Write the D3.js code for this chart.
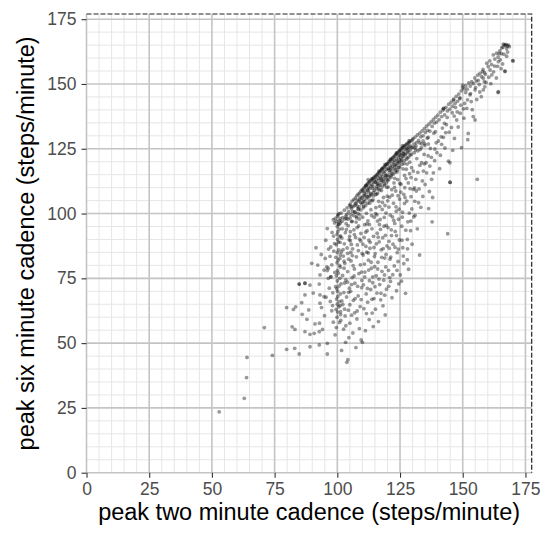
<!DOCTYPE html>
<html><head><meta charset="utf-8">
<script src="https://cdn.jsdelivr.net/npm/d3@7"></script>
<style>body{margin:0;background:#fff}svg{display:block}</style>
</head><body><div id="chart"></div>
<script>
const xLabel = "peak two minute cadence (steps/minute)";
const yLabel = "peak six minute cadence (steps/minute)";
const majorTicks = [0, 25, 50, 75, 100, 125, 150, 175];

const sparseLow = [[52.9,23.5],[62.9,28.7],[63.8,36.7],[64.0,44.5],[74.1,45.3],[70.9,56.0],[79.8,47.6],[83.0,48.0],[84.8,45.8],[89.1,48.6],[92.8,49.3],[96.0,45.8],[82.0,56.3],[83.1,55.3],[79.8,63.7],[82.5,63.0],[83.4,64.0],[85.8,65.6],[86.0,61.1],[87.9,59.2],[87.1,54.4],[89.1,53.4],[90.8,53.8],[92.8,54.4],[94.1,55.3],[91.1,57.4],[92.9,57.7],[94.9,60.6],[84.8,72.8],[84.8,72.8],[87.1,73.1],[87.1,73.1],[89.1,72.4],[87.1,68.6],[92.8,72.8],[93.1,65.4],[93.7,63.7],[93.1,68.6],[95.5,67.7],[89.8,80.8],[93.1,76.3],[94.7,78.2],[96.0,78.0],[96.4,78.9],[96.4,75.0],[97.4,75.6],[97.4,75.6],[94.7,67.9],[96.0,49.9],[97.8,62.5],[98.4,58.1],[96.8,71.2],[98.2,69.4],[97.1,83.5],[95.4,89.7],[96.0,94.2],[97.4,87.1],[98.5,91.3],[93.6,84.2],[91.5,86.8],[98.9,96.4],[97.8,80.2],[95.2,82.7],[99.0,77.3],[98.6,85.5],[92.2,80.1],[90.4,69.3],[88.6,62.8],[97.2,66.1],[99.1,53.2]];

const columnAt100 = [[99.6,56],[100.9,58],[99.9,60],[101.3,61],[100.1,62],[99.5,63],[100.6,64],[101.1,64.5],[100.0,65],[100.8,66],[99.7,67],[100.2,68],[101.2,69],[100.1,70],[99.8,71],[100.7,72],[100.0,74],[101.0,75],[99.6,76],[100.4,77],[100.1,78],[100.9,80],[99.9,81],[100.3,82],[101.2,84],[100.0,85],[100.6,86],[99.6,88],[100.4,89],[100.1,90],[101.0,91],[99.9,92],[100.2,93],[100.8,94],[100.0,95],[100.5,96],[99.7,97],[101.1,98],[100.1,99],[100.6,100]];

const fanBody = [[103.8,42.6],[104.2,43.6],[103.3,50.3],[101.7,47.2],[102.5,55.4],[104.6,52.1],[101.4,58.8],[103.1,60.5],[104.4,62.7],[102.2,64.9],[101.8,66.3],[103.7,67.8],[102.6,69.5],[104.8,71.2],[101.5,72.9],[103.4,74.4],[102.1,76.1],[104.1,77.6],[101.2,79.3],[103.0,80.8],[104.5,82.4],[102.4,83.6],[101.6,85.2],[103.9,86.7],[102.8,88.3],[104.7,89.9],[101.3,91.4],[103.2,92.6],[102.0,94.1],[104.3,95.3],[101.9,97.0],[103.6,98.2],[102.7,81.6],[104.0,73.5],[101.1,88.9],[102.9,63.1],
[106.2,53.9],[105.0,57.7],[107.4,48.3],[108.8,55.6],[109.5,51.2],[105.7,60.8],[107.9,62.4],[109.1,64.1],[106.4,66.5],[108.3,68.2],[105.3,70.0],[109.7,71.4],[107.0,73.1],[105.9,75.3],[108.6,76.8],[106.8,78.6],[109.2,80.2],[105.5,81.7],[107.6,83.3],[109.9,84.6],[106.1,86.4],[108.0,87.9],[105.2,89.5],[107.3,90.8],[109.4,92.3],[106.6,93.7],[108.5,95.2],[105.8,96.9],[107.7,98.3],[109.0,99.5],[106.9,100.6],[108.2,101.8],[105.4,85.0],[109.6,77.4],[107.1,67.2],[106.3,79.9],[108.9,90.1],
[110.0,50.3],[114.3,56.4],[111.2,54.8],[112.7,59.1],[113.9,61.6],[110.6,63.3],[112.1,65.8],[114.6,67.2],[111.5,69.0],[113.3,70.7],[110.4,72.5],[112.8,74.1],[114.1,75.6],[111.0,77.4],[113.6,78.9],[110.8,80.5],[112.4,82.0],[114.8,83.4],[111.7,85.1],[113.0,86.6],[110.2,88.2],[112.6,89.7],[114.4,91.2],[111.3,92.8],[113.8,94.1],[110.9,95.7],[112.2,97.2],[114.7,98.6],[111.6,100.1],[113.4,101.5],[110.5,102.8],[112.9,104.0],[114.2,105.3],[111.8,96.0],[113.1,88.9],[110.3,84.0],[114.9,79.5],
[115.2,63.1],[118.2,64.4],[116.4,58.3],[119.1,60.9],[117.3,66.7],[115.8,69.3],[119.6,70.8],[116.9,72.6],[118.5,74.3],[115.5,76.0],[117.8,77.7],[119.3,79.4],[116.2,81.2],[118.9,82.8],[115.1,84.5],[117.5,86.0],[119.8,87.5],[116.7,89.1],[118.1,90.7],[115.9,92.4],[117.2,93.9],[119.5,95.4],[116.0,97.1],[118.7,98.5],[115.3,100.0],[117.9,101.6],[119.0,103.1],[116.5,104.7],[118.4,106.2],[115.7,107.5],[117.6,108.9],[119.7,110.1],[116.8,95.8],[118.3,86.5],[115.4,102.3],[119.2,91.6],
[120.9,75.3],[125.1,76.3],[121.8,67.5],[123.6,70.2],[124.5,72.9],[120.4,78.1],[122.7,79.8],[124.2,81.5],[121.3,83.2],[123.9,84.9],[120.7,86.6],[122.2,88.2],[124.7,89.8],[121.6,91.5],[123.1,93.1],[120.2,94.6],[122.9,96.2],[124.4,97.8],[121.1,99.4],[123.5,100.9],[120.6,102.5],[122.4,104.0],[124.8,105.6],[121.9,107.1],[123.3,108.7],[120.3,110.2],[122.6,111.8],[124.1,113.1],[121.4,114.6],[123.8,116.0],[122.0,98.7],[120.8,106.3],[124.6,101.7],[123.0,87.0],
[127.2,69.2],[125.7,95.1],[126.3,83.6],[127.9,90.0],[127.7,104.8],[126.8,103.9],[129.6,117.7],[128.4,78.5],[126.1,86.8],[129.2,93.4],[125.9,98.6],[128.7,100.2],[126.5,107.4],[129.0,109.6],[125.4,111.3],[127.4,113.5],[128.8,115.4],[126.2,117.2],[127.8,119.1],[125.6,120.6],[129.4,106.5],[126.9,110.0],[128.1,96.8],[129.8,88.2]];

const extraFan = [[98.9,88.4],[99.4,83.1],[101.8,90.6],[102.3,86.1],[103.6,93.8],[104.9,91.2],[101.0,82.7],[102.7,78.9],[104.1,84.6],[105.6,88.1],[106.8,91.9],[107.9,94.6],[106.0,83.8],[108.4,85.7],[109.3,89.4],[105.2,93.0],[107.5,96.7],[108.8,97.9],[106.7,75.9],[109.8,74.2],[105.0,64.8],[107.8,59.3],[110.7,90.8],[111.9,93.4],[112.8,95.8],[113.7,99.2],[110.1,98.6],[111.4,87.3],[112.3,84.8],[113.5,81.2],[114.6,86.9],[110.9,75.6],[112.0,71.1],[113.8,66.9],[111.6,61.4],[115.6,88.3],[116.3,90.9],[117.1,97.7],[118.6,95.1],[119.4,100.2],[115.8,99.5],[116.9,102.8],[118.0,104.3],[119.9,106.7],[117.7,83.1],[116.1,78.6],[118.8,76.3],[119.4,84.2],[115.0,71.8],[117.4,69.2],[120.6,89.3],[121.5,93.7],[122.5,97.4],[123.4,102.6],[124.2,106.9],[120.1,104.9],[121.7,109.2],[122.8,110.1],[124.9,111.6],[123.6,91.5],[121.0,82.4],[122.1,76.4],[124.3,86.3],[120.5,71.9],[126.0,100.5],[127.0,106.2],[128.3,111.8],[129.4,113.9],[125.3,108.3],[126.8,114.7],[127.5,117.1],[128.9,119.8],[125.8,89.7],[127.3,93.6],[129.7,101.8],[126.5,80.7],[128.0,86.4],[96.5,86.3],[97.9,92.7],[95.8,79.4],[99.3,71.8],[98.1,64.5],[103.4,56.7],[106.9,61.7],[104.5,69.6],[101.3,62.1],[102.9,73.2],[105.7,72.6],[108.1,71.9],[109.5,66.8],[112.5,78.2],[114.1,73.3],[116.6,74.7],[118.9,68.5],[121.2,73.8],[123.8,78.1],[125.6,73.9],[127.9,82.2],[129.3,97.1],[130.9,104.7],[132.6,109.5],[134.1,106.6],[131.3,113.2],[132.9,118.6],[134.7,119.2],[136.9,118.3],[137.5,121.7],[138.9,124.9],[136.3,126.8],[139.7,123.5],[141.4,129.6],[142.9,125.3],[144.6,131.4],[143.5,134.3],[146.6,137.6],[147.8,139.2],[149.2,141.8],[150.3,140.4],[151.9,143.9],[153.1,146.3],[155.1,148.6],[156.8,146.9],[158.6,150.9],[160.4,152.6],[162.3,154.7],[163.9,156.8],[165.0,159.3],[166.4,161.5],[167.9,162.3]];

const upperFan = [[130.3,109.3],[130.8,109.9],[131.5,108.7],[131.0,99.3],[130.5,98.7],[135.0,111.2],[133.6,119.6],[134.3,116.4],[130.3,116.4],[132.1,115.9],[133.0,124.7],[131.7,121.2],[134.6,122.8],[132.4,104.2],[133.9,112.6],[130.9,125.4],[134.8,127.0],[132.8,84.0],[131.9,94.1],[133.3,102.4],
[135.4,119.6],[135.6,115.7],[138.3,115.7],[137.6,113.2],[136.2,122.3],[137.1,125.1],[138.8,120.4],[139.4,127.3],[136.7,108.5],[138.0,106.2],[135.9,129.1],[139.1,131.6],[137.8,96.8],[136.4,101.9],
[140.3,128.0],[141.6,126.7],[142.3,129.4],[144.3,120.2],[144.9,119.6],[144.9,112.1],[144.0,92.2],[141.1,122.5],[143.2,131.2],[142.7,134.8],[140.8,117.3],[143.8,137.1],[141.9,133.0],
[145.0,112.0],[147.6,136.1],[146.3,143.8],[149.0,138.7],[148.2,133.4],[146.7,129.0],[149.5,125.4],[145.8,138.9],[147.1,141.0],[148.8,144.3],[146.0,124.4],[145.5,133.2],
[152.2,130.9],[152.0,128.5],[151.6,140.6],[154.2,137.4],[154.9,136.1],[152.9,145.8],[154.9,147.7],[153.4,143.2],[150.5,136.8],[151.2,146.7],[153.8,140.1],[150.8,142.5],
[155.8,113.2],[158.2,147.7],[158.2,152.2],[156.6,149.8],[157.4,145.1],[159.3,150.6],[155.6,144.0],[157.9,154.8],[159.0,153.7],[156.2,151.4],[158.8,148.9],
[164.2,147.0],[164.1,146.7],[160.9,155.4],[161.6,153.5],[164.2,158.6],[165.9,157.7],[166.9,154.8],[166.8,155.0],[169.9,159.0],[170.1,158.9],[164.5,161.8],[162.7,156.9],[163.4,152.3],[167.5,160.7],[161.2,150.1],[165.3,155.9]];

const diagonalBand = [[98.4,97.6],[99.2,98.1],[100.3,99.5],[100.9,97.3],[101.5,100.2],[102.1,98.4],[102.8,101.3],[103.4,99.0],[103.9,102.2],[104.5,100.7],[104.9,103.1],[101.2,96.4],[103.0,97.9],[100.6,95.8],
[105.2,103.6],[105.6,101.9],[105.9,104.8],[106.3,102.7],[106.6,105.4],[106.9,103.2],[107.2,106.0],[107.5,104.1],[107.8,106.9],[108.0,105.2],[108.3,107.5],[108.6,104.8],[108.9,107.9],[109.1,106.3],[109.4,108.6],[109.7,105.9],[109.9,109.2],[106.1,100.8],[107.9,102.9],[109.3,104.2],[105.4,99.6],[108.5,101.7],
[110.1,108.8],[110.3,106.7],[110.5,109.7],[110.7,107.9],[110.9,110.2],[111.1,108.4],[111.3,110.6],[111.5,107.2],[111.6,111.0],[111.8,109.3],[112.0,111.4],[112.2,108.9],[112.4,111.8],[112.5,110.1],[112.7,112.2],[112.9,109.6],[113.1,112.5],[113.3,110.8],[113.4,107.8],[113.6,112.9],[113.8,111.2],[114.0,113.3],[114.2,110.4],[114.3,113.7],[114.5,111.9],[114.7,114.0],[114.9,112.6],[110.6,105.3],[111.9,106.4],[113.0,106.9],[114.4,108.2],[112.3,113.1],[113.7,113.4],[111.4,110.9],[110.2,104.4],
[115.1,114.2],[115.2,112.1],[115.4,114.6],[115.6,113.0],[115.8,115.0],[116.0,111.7],[116.1,115.3],[116.3,113.8],[116.5,115.7],[116.7,112.9],[116.9,116.1],[117.0,114.4],[117.2,116.5],[117.4,113.6],[117.6,116.9],[117.8,115.2],[118.0,117.3],[118.1,114.1],[118.3,117.7],[118.5,115.9],[118.7,118.0],[118.9,116.3],[119.1,118.4],[119.3,115.0],[119.4,118.8],[119.6,117.1],[119.8,119.1],[115.7,110.4],[117.1,111.0],[118.4,112.5],[119.5,113.2],[116.4,109.5],[118.8,110.9],[117.7,117.2],[119.0,119.0],[116.6,116.4],
[120.0,119.3],[120.2,117.4],[120.4,119.8],[120.6,116.8],[120.8,120.1],[120.9,118.3],[121.1,120.5],[121.3,117.7],[121.5,120.9],[121.7,119.2],[121.9,121.3],[122.0,118.1],[122.2,121.7],[122.4,119.9],[122.6,122.0],[122.8,120.4],[123.0,122.4],[123.1,118.9],[123.3,122.8],[123.5,121.1],[123.7,123.2],[123.9,120.2],[124.1,123.5],[124.3,121.9],[124.5,124.0],[124.7,122.5],[124.9,124.3],[120.5,114.2],[121.8,115.4],[123.2,116.9],[124.4,117.8],[122.9,113.6],[120.1,112.7],[124.0,119.4],[121.2,121.0],[123.6,123.4],
[125.1,124.6],[125.3,122.7],[125.5,125.0],[125.7,123.4],[125.9,125.3],[126.1,122.2],[126.3,125.6],[126.5,124.1],[126.7,126.0],[126.9,123.0],[127.1,126.3],[127.3,124.7],[127.5,126.7],[127.7,125.2],[127.9,127.0],[128.1,123.9],[128.3,127.3],[128.5,125.8],[128.8,127.6],[129.0,126.2],[129.3,128.0],[129.6,125.4],[129.9,128.4],[125.4,120.1],[126.6,119.3],[127.8,121.5],[129.1,122.6],[126.0,126.2],[128.6,128.1],
[130.2,128.9],[130.6,126.8],[131.0,129.5],[131.5,127.4],[131.9,130.3],[132.4,128.2],[132.9,131.0],[133.3,129.6],[133.8,131.9],[134.2,130.0],[134.7,132.8],[135.1,131.3],[135.6,133.7],[136.0,132.1],[136.5,134.5],[136.9,131.8],[137.4,135.4],[137.8,133.6],[138.3,136.3],[138.7,134.9],[139.2,137.2],[139.6,135.3],[131.2,124.6],[133.6,126.9],[136.2,129.4],[138.5,131.0],
[140.1,138.0],[140.6,136.2],[141.1,139.1],[141.6,137.4],[142.1,139.9],[142.3,140.6],[142.4,140.5],[142.8,138.1],[143.3,141.0],[143.9,139.6],[144.4,142.2],[144.9,140.3],[145.4,143.0],[145.9,141.4],[146.4,144.1],[146.9,142.5],[147.4,145.2],[147.9,143.3],[148.4,146.1],[148.9,144.6],[149.4,147.3],[149.9,148.6],[150.0,149.5],
[150.6,148.1],[151.2,149.3],[151.8,148.0],[152.4,150.4],[153.0,149.2],[153.6,150.9],[154.2,150.1],[154.8,152.3],[155.4,151.1],[156.0,153.4],[156.9,154.1],[157.5,152.8],[158.1,155.6],[158.7,154.4],[159.6,158.0],[160.2,156.7],[160.8,158.9],[161.5,157.5],[162.2,161.2],[162.8,159.6],[163.5,161.9],[164.1,160.4],[164.8,162.8],[165.4,161.7],[166.0,164.2],[166.2,165.4],[166.6,165.1],[167.0,164.9],[167.3,165.3],[167.8,164.6],[168.2,165.0],[168.6,164.4],[165.6,163.9],[167.5,163.6]];

const extraBand = [[103.5,96.1],[104.2,97.8],[105.1,98.3],[105.8,97.0],[106.5,99.2],[107.1,100.5],[107.6,98.9],[108.2,100.1],[108.7,102.6],[109.3,101.4],[109.8,103.7],[110.4,102.2],[110.9,104.6],[111.3,103.1],[111.7,105.8],[112.1,104.0],[112.6,106.5],[113.0,105.1],[113.5,107.4],[113.9,104.9],[114.3,106.8],[114.8,108.9],[115.2,107.3],[115.6,109.6],[116.1,107.9],[116.5,110.8],[116.9,109.1],[117.4,111.9],[117.8,110.2],[118.2,112.8],[118.7,111.4],[119.1,113.9],[119.6,111.8],[120.0,114.7],[120.5,113.1],[120.9,115.8],[121.4,114.0],[121.8,116.6],[122.3,115.2],[122.7,117.5],[123.1,116.0],[123.6,118.3],[124.0,116.8],[124.5,119.6],[124.9,118.0],[125.4,121.3],[125.8,119.0],[126.3,121.9],[126.7,120.4],[127.2,122.7],[127.6,121.0],[128.1,123.5],[128.5,121.8],[129.0,124.4],[129.5,122.9],[130.0,125.6],[130.7,123.5],[131.4,126.1],[132.1,124.2],[132.8,127.3],[133.5,125.4],[134.2,128.0],[134.9,126.3],[103.8,99.7],[105.5,102.6],[107.3,103.8],[109.0,105.5],[110.8,106.9],[112.4,108.3],[114.1,109.7],[115.9,111.4],[117.5,113.0],[119.3,114.6],[121.0,116.9],[122.8,118.7],[124.6,120.8],[126.4,123.1],[128.2,125.0]];

const points = [].concat(sparseLow, columnAt100, fanBody, extraFan, upperFan, diagonalBand, extraBand);

const W = 550, H = 538;
const FONT = "'Liberation Sans', Arial, sans-serif";
const svg = d3.select("#chart").append("svg").attr("width", W).attr("height", H)
  .style("font-family", FONT);

const x = d3.scaleLinear().domain([0, 177.5]).range([86.5, 531.7]);
const y = d3.scaleLinear().domain([0, 177]).range([472.7, 14]);
const minor = d3.range(5, 178, 5).filter(v => v % 25 !== 0);

const grid = svg.append("g");
grid.selectAll(".vmin").data(minor).join("line")
  .attr("x1", d => x(d)).attr("x2", d => x(d)).attr("y1", y(0)).attr("y2", y(177))
  .attr("stroke", "#e6e6e6").attr("stroke-width", 1);
grid.selectAll(".hmin").data(minor).join("line")
  .attr("y1", d => y(d)).attr("y2", d => y(d)).attr("x1", x(0)).attr("x2", x(177.5))
  .attr("stroke", "#e6e6e6").attr("stroke-width", 1);
grid.selectAll(".vmaj").data(majorTicks).join("line")
  .attr("x1", d => x(d)).attr("x2", d => x(d)).attr("y1", y(0)).attr("y2", y(177))
  .attr("stroke", "#c4c4c4").attr("stroke-width", 1.6);
grid.selectAll(".hmaj").data(majorTicks).join("line")
  .attr("y1", d => y(d)).attr("y2", d => y(d)).attr("x1", x(0)).attr("x2", x(177.5))
  .attr("stroke", "#c4c4c4").attr("stroke-width", 1.6);

svg.append("g").selectAll("circle").data(points).join("circle")
  .attr("cx", d => x(d[0])).attr("cy", d => y(d[1])).attr("r", 1.9)
  .attr("fill", "#000").attr("fill-opacity", 0.4);

svg.append("path")
  .attr("d", `M${x(0)},${y(177)}H${x(177.5)}V${y(0)}`)
  .attr("fill", "none").attr("stroke", "#222").attr("stroke-width", 1.2)
  .attr("stroke-dasharray", "5,2");

const xAxis = d3.axisBottom(x).tickValues(majorTicks).tickSize(5).tickPadding(5);
const yAxis = d3.axisLeft(y).tickValues(majorTicks).tickSize(5).tickPadding(5);
const gx = svg.append("g").attr("transform", `translate(0,${y(0)})`).call(xAxis);
const gy = svg.append("g").attr("transform", `translate(${x(0)},0)`).call(yAxis);
[gx, gy].forEach(g => {
  g.select(".domain").remove();
  g.selectAll(".tick line").attr("stroke", "#333").attr("stroke-width", 1.1);
  g.selectAll(".tick text").attr("fill", "#4d4d4d").style("font-size", "17.5px")
    .style("font-family", FONT);
});

svg.append("text").attr("x", (x(0) + x(177.5)) / 2).attr("y", 520)
  .attr("text-anchor", "middle").style("font-size", "23.5px").attr("fill", "#000")
  .text(xLabel);
svg.append("text").attr("transform", `translate(34,${(y(0) + y(177)) / 2}) rotate(-90)`)
  .attr("text-anchor", "middle").style("font-size", "23.5px").attr("fill", "#000")
  .text(yLabel);
</script></body></html>
